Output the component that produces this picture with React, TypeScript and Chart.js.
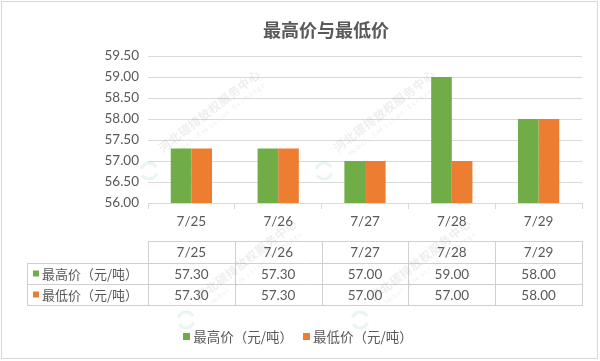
import React, { useEffect, useRef } from "react";
import { Chart, registerables } from "chart.js";

Chart.register(...registerables);

const chartTitle = "最高价与最低价";
const categories = ["7/25", "7/26", "7/27", "7/28", "7/29"];
const highPrices = [57.3, 57.3, 57.0, 59.0, 58.0];
const lowPrices = [57.3, 57.3, 57.0, 57.0, 58.0];
const seriesNames = ["最高价（元/吨）", "最低价（元/吨）"];
const seriesColors = ["#70AD47", "#ED7D31"];
const yMin = 56;
const yMax = 59.5;
const yStep = 0.5;
const watermarkText = "河北碳排放权服务中心";
const watermarkSub = "Hebei Emission Exchange";

const TEXT = "#595959";
const GRID = "#d9d9d9";
const TABLE_LINE = "#d0d0d0";
const CJK = '"Noto Sans CJK SC", sans-serif';
const NUM = 'Lato, "Open Sans", sans-serif';

const overlayPlugin = {
  id: "overlay",
  afterDraw(chart: any) {
    const ctx = chart.ctx as CanvasRenderingContext2D;
    const area = chart.chartArea;
    const n = categories.length;
    const cw = (area.right - area.left) / n;
    const datasets = chart.data.datasets;

    ctx.save();
    // outer border
    ctx.strokeStyle = GRID;
    ctx.lineWidth = 1;
    ctx.strokeRect(1.5, 1.5, 596, 357);

    // title
    ctx.fillStyle = TEXT;
    ctx.font = `bold 18px ${CJK}`;
    ctx.textAlign = "center";
    ctx.textBaseline = "middle";
    ctx.fillText(chartTitle, 326, 30);

    // data table
    const tTop = 241;
    const rowH = [22, 21, 21];
    const rows = [tTop, tTop + rowH[0], tTop + rowH[0] + rowH[1], tTop + rowH[0] + rowH[1] + rowH[2]];
    const labelLeft = 27;
    const L = Math.round(area.left);
    const R = Math.round(area.right);
    ctx.strokeStyle = TABLE_LINE;
    ctx.lineWidth = 1;
    ctx.beginPath();
    ctx.moveTo(L, rows[0] + 0.5);
    ctx.lineTo(R, rows[0] + 0.5);
    for (let r = 1; r < rows.length; r++) {
      ctx.moveTo(labelLeft, rows[r] + 0.5);
      ctx.lineTo(R, rows[r] + 0.5);
    }
    ctx.moveTo(labelLeft + 0.5, rows[1]);
    ctx.lineTo(labelLeft + 0.5, rows[3]);
    for (let i = 0; i <= n; i++) {
      const x = Math.round(area.left + i * cw) + 0.5;
      ctx.moveTo(x, rows[0]);
      ctx.lineTo(x, rows[3] + 1);
    }
    ctx.stroke();

    ctx.textAlign = "center";
    ctx.textBaseline = "middle";
    ctx.fillStyle = TEXT;
    ctx.font = `13.5px ${NUM}`;
    for (let i = 0; i < n; i++) {
      const cx = area.left + (i + 0.5) * cw;
      ctx.fillText(categories[i], cx, (rows[0] + rows[1]) / 2 + 1);
      datasets.forEach((ds: any, d: number) => {
        ctx.fillText(Number(ds.data[i]).toFixed(2), cx, (rows[d + 1] + rows[d + 2]) / 2 + 1);
      });
    }
    datasets.forEach((ds: any, d: number) => {
      const cy = (rows[d + 1] + rows[d + 2]) / 2;
      ctx.fillStyle = ds.backgroundColor;
      ctx.fillRect(33, cy - 3, 6, 6);
      ctx.fillStyle = TEXT;
      ctx.font = `13px ${CJK}`;
      ctx.textAlign = "left";
      ctx.fillText(ds.label, 42, cy + 1);
    });

    // legend
    ctx.font = `13.5px ${CJK}`;
    ctx.textBaseline = "middle";
    ctx.textAlign = "left";
    const box = 7;
    const gapBox = 3;
    const gapItem = 10;
    const widths = datasets.map((ds: any) => box + gapBox + ctx.measureText(ds.label).width);
    const total = widths.reduce((a: number, b: number) => a + b, 0) + gapItem * (datasets.length - 1);
    let lx = 298 - total / 2;
    const ly = 337;
    datasets.forEach((ds: any, d: number) => {
      ctx.fillStyle = ds.backgroundColor;
      ctx.fillRect(Math.round(lx), ly - 4, box, box);
      ctx.fillStyle = TEXT;
      ctx.fillText(ds.label, lx + box + gapBox, ly);
      lx += widths[d] + gapItem;
    });

    // watermark
    const spots = [
      [163, 153],
      [338, 153],
      [200, 302],
      [374, 302],
    ];
    spots.forEach(([sx, sy]) => {
      ctx.save();
      ctx.translate(sx, sy);
      ctx.rotate(-38 * Math.PI / 180);
      ctx.globalAlpha = 0.13;
      ctx.fillStyle = "#7a7a7a";
      ctx.font = `bold 12px ${CJK}`;
      ctx.textAlign = "left";
      ctx.textBaseline = "alphabetic";
      let x = 0;
      for (const ch of watermarkText) {
        ctx.fillText(ch, x, 0);
        x += 12.5;
      }
      ctx.font = `7px ${NUM}`;
      let x2 = 8;
      for (const ch of watermarkSub) {
        ctx.fillText(ch, x2, 10);
        x2 += 5;
      }
      ctx.restore();
      ctx.save();
      ctx.globalAlpha = 0.12;
      ctx.strokeStyle = "#3cb39a";
      ctx.lineWidth = 3;
      ctx.beginPath();
      ctx.arc(sx - 14, sy + 18, 8, 0.3, 2.6);
      ctx.stroke();
      ctx.beginPath();
      ctx.arc(sx - 14, sy + 18, 8, 3.4, 5.8);
      ctx.stroke();
      ctx.restore();
    });

    ctx.restore();
  },
};

export default function App() {
  const ref = useRef<HTMLCanvasElement | null>(null);

  useEffect(() => {
    document.body.style.margin = "0";
    const canvas = ref.current;
    if (!canvas) return;
    const chart = new Chart(canvas, {
      type: "bar",
      data: {
        labels: categories,
        datasets: [
          {
            label: seriesNames[0],
            data: highPrices,
            backgroundColor: seriesColors[0],
            categoryPercentage: 0.475,
            barPercentage: 1.0,
          },
          {
            label: seriesNames[1],
            data: lowPrices,
            backgroundColor: seriesColors[1],
            categoryPercentage: 0.475,
            barPercentage: 1.0,
          },
        ],
      },
      options: {
        responsive: false,
        animation: false,
        devicePixelRatio: 1,
        layout: { padding: { top: 56, right: 18, bottom: 0, left: 0 } },
        plugins: {
          legend: { display: false },
          title: { display: false },
          tooltip: { enabled: false },
        },
        scales: {
          x: {
            afterFit(scale: any) {
              scale.height = 158;
            },
            border: { display: true, color: GRID },
            grid: {
              display: true,
              drawOnChartArea: false,
              drawTicks: true,
              tickLength: 6,
              color: GRID,
              offset: true,
            },
            ticks: {
              color: TEXT,
              font: { family: NUM, size: 13.5 },
              padding: 5,
              maxRotation: 0,
            },
          },
          y: {
            min: yMin,
            max: yMax,
            afterFit(scale: any) {
              scale.width = 148;
            },
            border: { display: false },
            grid: { color: GRID, drawTicks: false },
            ticks: {
              stepSize: yStep,
              color: TEXT,
              font: { family: NUM, size: 13.5 },
              padding: 9,
              callback: (v: any) => Number(v).toFixed(2),
            },
          },
        },
      },
      plugins: [overlayPlugin],
    });
    return () => chart.destroy();
  }, []);

  return (
    <div style={{ width: 600, height: 361, background: "#fff" }}>
      <canvas ref={ref} width={600} height={361} style={{ display: "block", width: 600, height: 361 }} />
    </div>
  );
}
